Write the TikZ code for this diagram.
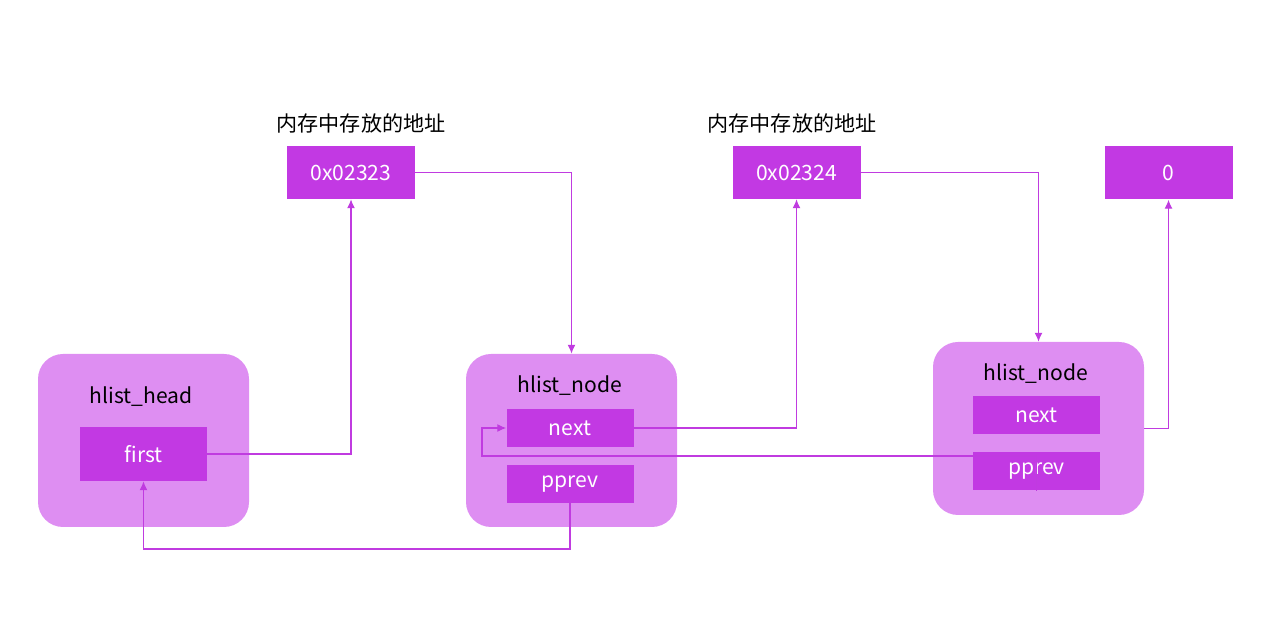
\documentclass[tikz,border=0pt]{standalone}
\usepackage{fontspec}
\usetikzlibrary{arrows.meta}
\setmainfont{Noto Sans CJK SC}
\definecolor{darkpurple}{HTML}{C239E3}
\definecolor{lightpurple}{HTML}{DE8EF2}
\definecolor{linepurple}{HTML}{C03BE0}
\tikzset{
	outer/.style = {rectangle, rounded corners=0.5cm, fill=lightpurple, minimum width=4.22cm, minimum height=3.46cm},
	field/.style = {rectangle, fill=darkpurple, text=white, minimum width=2.54cm, minimum height=0.76cm, inner sep=0pt},
	addr/.style  = {rectangle, fill=darkpurple, text=white, minimum width=2.56cm, minimum height=1.06cm, inner sep=0pt},
	link/.style  = {draw=linepurple, line width=0.6pt, -{Latex[length=5pt,width=4.5pt]}}
}
\begin{document}
\begin{tikzpicture}[font=\fontsize{12pt}{14pt}\selectfont]
	\useasboundingbox (0,0) rectangle (25.24,12.56);
	% the three list nodes
	\node (head)  at ( 2.87, 3.75)	[outer]	{};
	\node (node2) at (11.43, 3.75)	[outer]	{};
	\node (node3) at (20.77, 3.99)	[outer]	{};
	\node (headt)  at ( 2.82, 4.62)	{hlist\_head};
	\node (node2t) at (11.40, 4.84)	{hlist\_node};
	\node (node3t) at (20.72, 5.08)	{hlist\_node};
	\node (first) at ( 2.87, 3.48)	[field, minimum height=1.08cm]	{first};
	\node (next2)  at (11.40, 4.00)	[field]	{next};
	\node (pprev2) at (11.40, 2.88)	[field]	{pprev};
	\node (next3)  at (20.73, 4.26)	[field]	{next};
	\node (pprev3) at (20.73, 3.13)	[field]	{pprev};
	% addresses
	\node (mem1) at ( 7.22, 10.10)	{内存中存放的地址};
	\node (mem2) at (15.84, 10.10)	{内存中存放的地址};
	\node (addr1) at ( 7.02, 9.11)	[addr]	{0x02323};
	\node (addr2) at (15.93, 9.11)	[addr]	{0x02324};
	\node (null)  at (23.37, 9.10)	[addr]	{0};
	\coordinate (back) at (9.64, 3.44);
	\coordinate (low)  at (6.00, 1.58);
	\draw[link] (first.east) -| (addr1.south);
	\draw[link] (addr1.east) -| (node2.north);
	\draw[link] (next2.east) -| (addr2.south);
	\draw[link] (addr2.east) -| (node3.north);
	\draw[link] (node3.east) -| (null.south);
	\draw[link] (pprev3.south) |- (back) |- (next2.west);
	\draw[link] (pprev2.south) |- (low) -| (first.south);
\end{tikzpicture}
\end{document}
